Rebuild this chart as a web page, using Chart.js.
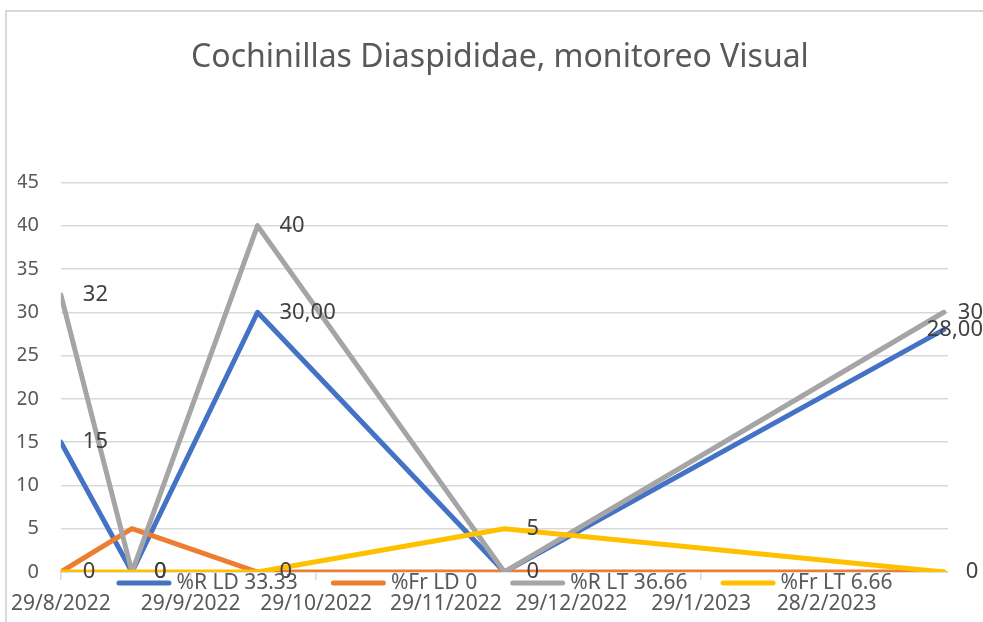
<!DOCTYPE html>
<html>
<head>
<meta charset="utf-8">
<script src="https://cdn.jsdelivr.net/npm/chart.js@4.4.0/dist/chart.umd.min.js"></script>
<style>
    body { margin: 0; background: #fff; }
    #marco {
        position: absolute; left: 5px; top: 10px; width: 990px; height: 620px;
        border-left: 2px solid #d9d9d9; border-top: 2px solid #d9d9d9;
    }
    #grafico { position: absolute; left: 0; top: 0; }
</style>
</head>
<body>
<div id="marco"></div>
<canvas id="grafico" width="983" height="622"></canvas>
<script>
// Fechas de monitoreo
const fechas = ['2022-08-29', '2022-09-15', '2022-10-15', '2022-12-13', '2023-03-28'];

// Series
const rLD = [15, 0, 30, 0, 28];
const frLD = [0, 5, 0, 0, 0];
const rLT = [32, 0, 40, 0, 30];
const frLT = [0, 0, 0, 5, 0];

// Etiquetas de datos que se ven en el grafico
const etiquetasRLD = ['15', null, '30,00', null, '28,00'];
const etiquetasFrLD = [null, null, null, null, null];
const etiquetasRLT = ['32', '0', '40', '0', '30'];
const etiquetasFrLT = ['0', '0', '0', '5', '0'];

// Eje X
const fechasEje = ['2022-08-29', '2022-09-29', '2022-10-29', '2022-11-29', '2022-12-29', '2023-01-29', '2023-02-28'];
const etiquetasEje = ['29/8/2022', '29/9/2022', '29/10/2022', '29/11/2022', '29/12/2022', '29/1/2023', '28/2/2023'];
const fechaFinEje = '2023-03-29';

const nombres = ['%R LD 33.33', '%Fr LD 0', '%R LT 36.66', '%Fr LT 6.66'];
const colores = ['#4472C4', '#ED7D31', '#A5A5A5', '#FFC000'];

const FUENTE = '"Noto Sans", "Open Sans", sans-serif';

// dias desde la primera fecha
const dia = f => (Date.parse(f) - Date.parse(fechas[0])) / 86400000;

function serie(idx, valores, etiquetas, orden) {
    return {
        label: nombres[idx],
        data: fechas.map((f, i) => ({ x: dia(f), y: valores[i] })),
        etiquetas: etiquetas,
        borderColor: colores[idx],
        backgroundColor: colores[idx],
        borderWidth: 5,
        borderJoinStyle: 'round',
        borderCapStyle: 'round',
        pointRadius: 0,
        tension: 0,
        order: orden
    };
}

// Etiquetas de datos a la derecha de cada punto
const pluginEtiquetas = {
    id: 'etiquetasDatos',
    afterDatasetsDraw(chart) {
        const ctx = chart.ctx;
        ctx.save();
        ctx.font = '22px ' + FUENTE;
        ctx.fillStyle = '#404040';
        ctx.textBaseline = 'middle';
        ctx.textAlign = 'left';
        chart.data.datasets.forEach((ds, d) => {
            const meta = chart.getDatasetMeta(d);
            meta.data.forEach((pt, i) => {
                const txt = ds.etiquetas[i];
                if (txt == null) return;
                const w = ctx.measureText(txt).width;
                const x = Math.min(pt.x + 22, chart.width - w);
                ctx.fillText(txt, x, pt.y);
            });
        });
        ctx.restore();
    }
};

// Leyenda encima del eje, como en el original
const pluginLeyenda = {
    id: 'leyendaEncima',
    afterDraw(chart) {
        const ctx = chart.ctx;
        const area = chart.chartArea;
        ctx.save();
        ctx.font = '21px ' + FUENTE;
        const largoLinea = 50, hueco = 10, separacion = 33;
        const anchos = nombres.map(n => ctx.measureText(n).width);
        const total = anchos.reduce((a, b) => a + b, 0) + nombres.length * (largoLinea + hueco) + (nombres.length - 1) * separacion;
        let x = (area.left + area.right) / 2 - total / 2;
        const y = 583;
        nombres.forEach((n, i) => {
            ctx.strokeStyle = colores[i];
            ctx.lineWidth = 5;
            ctx.lineCap = 'round';
            ctx.beginPath();
            ctx.moveTo(x + 2.5, y);
            ctx.lineTo(x + largoLinea + 2.5, y);
            ctx.stroke();
            x += largoLinea + hueco;
            ctx.fillStyle = '#595959';
            ctx.textBaseline = 'middle';
            ctx.fillText(n, x, y);
            x += anchos[i] + separacion;
        });
        ctx.restore();
    }
};

new Chart(document.getElementById('grafico'), {
    type: 'line',
    data: {
        datasets: [
            serie(0, rLD, etiquetasRLD, 4),
            serie(1, frLD, etiquetasFrLD, 3),
            serie(2, rLT, etiquetasRLT, 2),
            serie(3, frLT, etiquetasFrLT, 1)
        ]
    },
    options: {
        responsive: false,
        animation: false,
        layout: { padding: { left: 17, right: 0, top: 0, bottom: 0 } },
        plugins: {
            legend: { display: false },
            tooltip: { enabled: false },
            title: {
                display: true,
                text: 'Cochinillas Diaspididae, monitoreo Visual',
                color: '#595959',
                font: { family: FUENTE, size: 32, weight: 'normal' },
                padding: { top: 39, bottom: 105 }
            }
        },
        scales: {
            x: {
                type: 'linear',
                min: 0,
                max: dia(fechaFinEje),
                afterBuildTicks: (scale) => {
                    scale.ticks = fechasEje.map(f => ({ value: dia(f) }));
                },
                afterFit: (scale) => { scale.height = 50; },
                grid: { drawOnChartArea: false, drawTicks: true, tickLength: 8, color: '#d9d9d9', lineWidth: 1.5 },
                border: { display: true, color: '#d9d9d9', width: 1.5 },
                ticks: {
                    autoSkip: false,
                    maxRotation: 0,
                    padding: 11,
                    color: '#595959',
                    font: { family: FUENTE, size: 21 },
                    callback: (v, i) => etiquetasEje[i]
                }
            },
            y: {
                min: 0,
                max: 45,
                afterFit: (scale) => { scale.width = 43; },
                grid: { color: '#d9d9d9', lineWidth: 1.5, drawTicks: false },
                border: { display: false },
                ticks: {
                    stepSize: 5,
                    padding: 22,
                    color: '#595959',
                    font: { family: FUENTE, size: 20 }
                }
            },
            // eje vacio a la derecha, solo para dejar el margen
            margenDerecho: {
                position: 'right',
                min: 0,
                max: 45,
                afterFit: (scale) => { scale.width = 35; },
                grid: { display: false },
                border: { display: false },
                ticks: { display: false }
            }
        }
    },
    plugins: [pluginEtiquetas, pluginLeyenda]
});
</script>
</body>
</html>
